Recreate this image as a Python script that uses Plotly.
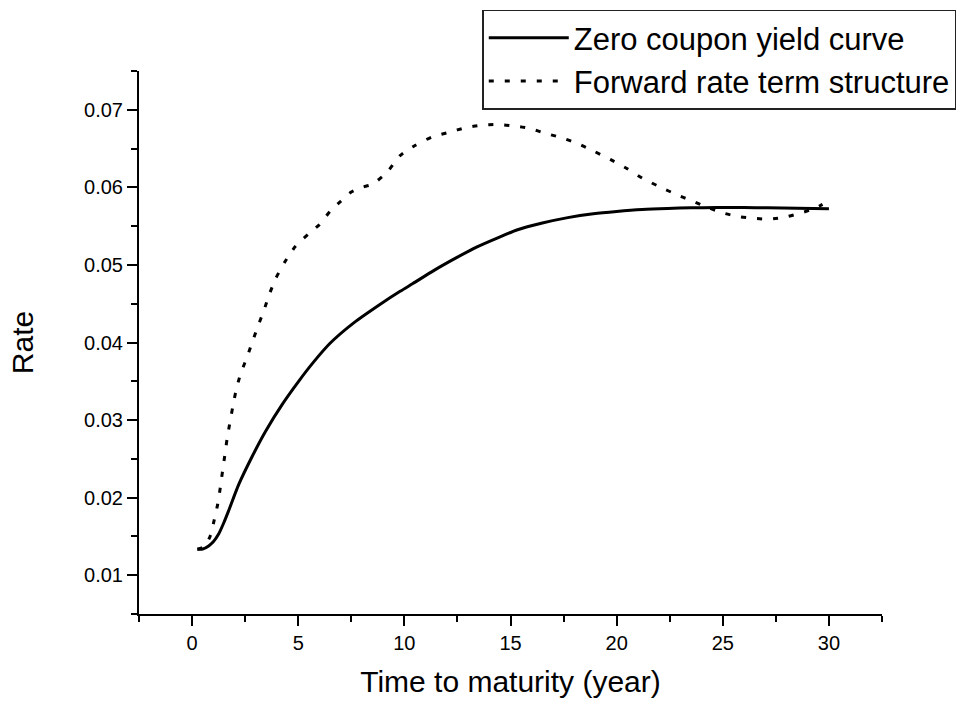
import plotly.graph_objects as go

# Zero coupon yield curve (maturity in years, rate)
zero_t = [0.25, 0.5, 0.78, 1.0, 1.25, 1.5, 1.72, 2.2, 2.83, 3.45, 4.24, 5.02, 5.73,
          6.5, 7.6, 8.9, 9.8, 10.4, 11.4, 12.5, 13.4, 14.4, 15.3, 16.5, 17.7,
          18.9, 20.0, 21.2, 22.4, 23.5, 24.7, 26.0, 27.1, 28.5, 30.0]
zero_r = [0.01335, 0.01337, 0.01378, 0.0143, 0.0153, 0.0168, 0.0183, 0.0217, 0.0253,
          0.0285, 0.0320, 0.0350, 0.0375, 0.0399, 0.0425, 0.0450, 0.0466, 0.0476,
          0.0493, 0.0510, 0.0523, 0.0535, 0.0545, 0.0554, 0.0561, 0.0566, 0.0569,
          0.05715, 0.05728, 0.05736, 0.0574, 0.0574, 0.05736, 0.0573, 0.05725]

# Forward rate term structure
fwd_t = [0.25, 0.6, 0.86, 1.05, 1.21, 1.33, 1.44, 1.54, 1.65, 1.77, 1.91, 2.07, 2.28,
         2.56, 2.83, 3.09, 3.38, 3.64, 3.93, 4.35, 4.87, 5.49, 6.0, 6.5, 7.0, 7.5,
         8.0, 8.5, 9.2, 9.8, 10.5, 11.3, 12.1, 12.9, 13.6, 14.4, 15.2, 15.9, 16.6,
         17.4, 18.2, 18.9, 19.7, 20.5, 21.2, 22.0, 22.8, 23.6, 24.3, 25.0, 25.8,
         26.5, 27.2, 28.0, 28.8, 29.35, 29.7]
fwd_r = [0.01335, 0.0137, 0.0151, 0.0172, 0.0192, 0.0213, 0.0235, 0.0254, 0.0276,
         0.0295, 0.0316, 0.0338, 0.0359, 0.0379, 0.0400, 0.0420, 0.0441, 0.0462,
         0.0482, 0.0503, 0.0524, 0.0540, 0.0552, 0.0569, 0.0582, 0.0594, 0.0600,
         0.0604, 0.0620, 0.0641, 0.0654, 0.0665, 0.0671, 0.0677, 0.0680, 0.0681,
         0.0679, 0.0676, 0.0670, 0.0664, 0.0656, 0.0647, 0.0636, 0.0624, 0.0612,
         0.0601, 0.0591, 0.0582, 0.0574, 0.0567, 0.0562, 0.0560, 0.0559, 0.0562,
         0.0568, 0.0573, 0.0578]

series_names = ["Zero coupon yield curve", "Forward rate term structure"]

x_ticks = [0, 5, 10, 15, 20, 25, 30]
y_ticks = [0.01, 0.02, 0.03, 0.04, 0.05, 0.06, 0.07]

FONT = "Liberation Sans, Arial, Helvetica, sans-serif"

fig = go.Figure()
fig.add_trace(go.Scatter(
    x=zero_t, y=zero_r, mode="lines", name=series_names[0],
    line=dict(color="black", width=3, shape="spline", smoothing=0.6),
))
fig.add_trace(go.Scatter(
    x=fwd_t, y=fwd_r, mode="lines", name=series_names[1],
    line=dict(color="black", width=3, dash="5px,11px", shape="spline", smoothing=0.6),
))

axis_common = dict(
    showline=True, linecolor="black", linewidth=2,
    ticks="outside", ticklen=10, tickwidth=2, tickcolor="black",
    showgrid=False, zeroline=False, mirror=False,
    tickfont=dict(family=FONT, size=20, color="black"),
)

fig.update_xaxes(
    range=[-2.5, 32.5], tickmode="array", tickvals=x_ticks,
    ticktext=[str(v) for v in x_ticks],
    minor=dict(ticks="outside", ticklen=6, tickwidth=2, tickcolor="black",
               dtick=2.5, tick0=0, showgrid=False),
    title=dict(text="Time to maturity (year)", standoff=18,
               font=dict(family=FONT, size=30, color="black")),
    **axis_common,
)
fig.update_yaxes(
    range=[0.005, 0.075], tickmode="array", tickvals=y_ticks,
    ticktext=[f"{v:.2f}" for v in y_ticks],
    minor=dict(ticks="outside", ticklen=6, tickwidth=2, tickcolor="black",
               dtick=0.005, tick0=0.005, showgrid=False),
    title=dict(text="Rate", standoff=42,
               font=dict(family=FONT, size=30, color="black")),
    **axis_common,
)

fig.update_layout(
    width=968, height=706,
    margin=dict(l=139, r=86, t=71, b=92, autoexpand=False),
    paper_bgcolor="white", plot_bgcolor="white",
    font=dict(family=FONT, color="black"),
    legend=dict(
        x=0.462, y=1.113, xanchor="left", yanchor="top",
        bgcolor="white", bordercolor="#222222", borderwidth=1.5,
        font=dict(family=FONT, size=31, color="black"),
        itemwidth=80, tracegroupgap=0,
    ),
)

fig.write_html("out.html")
